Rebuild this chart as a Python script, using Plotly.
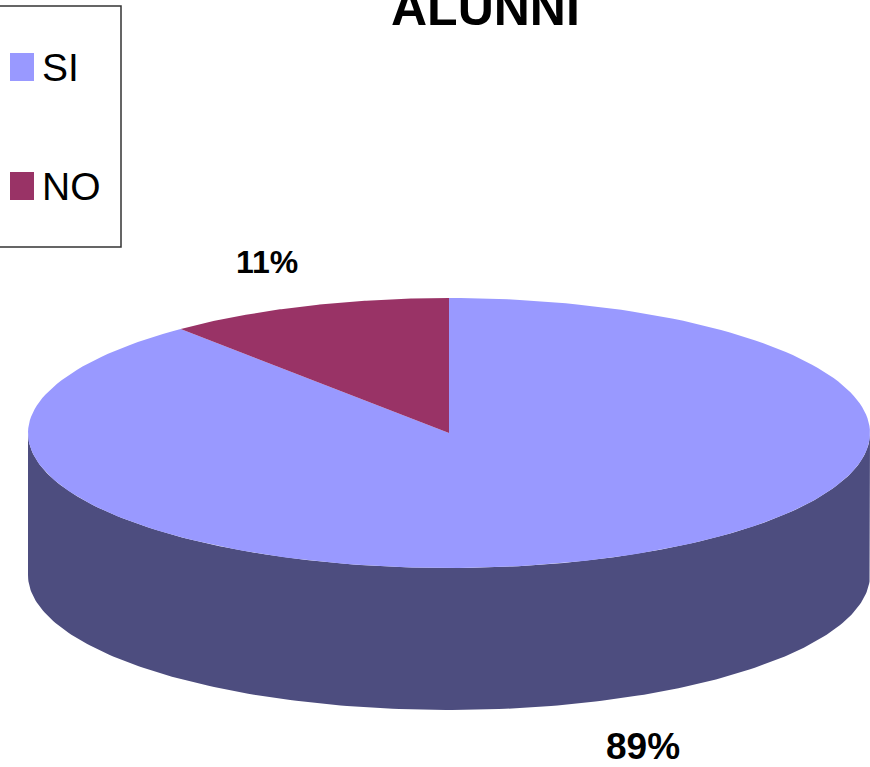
import numpy as np
import plotly.graph_objects as go

# ---- data ----
title = "ALUNNI"
categories = ["SI", "NO"]
values = [89, 11]

# ---- style ----
top_colors = ["#9999FF", "#993366"]
side_colors = ["#4D4D7F", "#4D1A33"]
W, H = 870, 767
cx, cy = 449, 433          # pie centre (pixels)
rx, ry = 421, 135          # ellipse radii
depth = 142                # thickness of the pie
font_family = "Liberation Sans, Arial, sans-serif"

fig = go.Figure()

total = float(sum(values))
start = 90.0
slices = []
for cat, v, tc, sc in zip(categories, values, top_colors, side_colors):
    sweep = 360.0 * v / total
    a0, a1 = start, start - sweep   # clockwise
    slices.append((cat, v, a0, a1, tc, sc))
    start = a1


def arc(a_from, a_to, n=200):
    t = np.radians(np.linspace(a_from, a_to, n))
    return cx + rx * np.cos(t), cy - ry * np.sin(t)


# sides (front half only: angles where sin < 0)
for cat, v, a0, a1, tc, sc in slices:
    lo, hi = min(a0, a1), max(a0, a1)
    for k in range(-2, 2):
        f_lo, f_hi = -180 + 360 * k, 0 + 360 * k
        s_lo, s_hi = max(lo, f_lo), min(hi, f_hi)
        if s_hi > s_lo:
            xs, ys = arc(s_lo, s_hi)
            px = np.concatenate([xs, xs[::-1]])
            py = np.concatenate([ys, ys[::-1] + depth])
            fig.add_trace(go.Scatter(x=px, y=py, fill="toself", mode="lines",
                                     line=dict(width=0, color=sc), fillcolor=sc,
                                     hoverinfo="skip", showlegend=False))

# tops
for cat, v, a0, a1, tc, sc in slices:
    xs, ys = arc(a0, a1)
    px = np.concatenate([[cx], xs, [cx]])
    py = np.concatenate([[cy], ys, [cy]])
    fig.add_trace(go.Scatter(x=px, y=py, fill="toself", mode="lines",
                             line=dict(width=0, color=tc), fillcolor=tc,
                             name=cat, hoverinfo="skip", showlegend=False))

# percentage labels
for cat, v, a0, a1, tc, sc in slices:
    mid = np.radians((a0 + a1) / 2)
    lx = cx + 1.33 * rx * np.cos(mid)
    ly = cy - 1.33 * ry * np.sin(mid)
    size = 32
    if np.sin(mid) < 0:
        ly += depth + 3
        lx += 4
        size = 37
    else:
        lx += 8
        ly -= 2
    fig.add_annotation(x=lx, y=ly, xref="x", yref="y", showarrow=False,
                       text="<b>%d%%</b>" % round(100 * v / total),
                       font=dict(family=font_family, size=size, color="black"))

# legend (box, swatches, labels)
fig.add_shape(type="rect", xref="x", yref="y", x0=-3, x1=121, y0=6, y1=247,
              line=dict(color="#333333", width=1.5), fillcolor="white")
for i, (cat, tc) in enumerate(zip(categories, top_colors)):
    yc = 67 + i * 119
    fig.add_shape(type="rect", xref="x", yref="y", x0=10, x1=34, y0=yc - 14, y1=yc + 14,
                  line=dict(width=0), fillcolor=tc)
    fig.add_annotation(x=40, y=yc, xref="x", yref="y", showarrow=False, xanchor="left",
                       text=cat, font=dict(family=font_family, size=39, color="black"))

# title
fig.add_annotation(x=485, y=8, xref="x", yref="y", showarrow=False,
                   text="<b>%s</b>" % title,
                   font=dict(family=font_family, size=50, color="black"))

fig.update_layout(
    width=W, height=H, autosize=False,
    margin=dict(l=0, r=0, t=0, b=0),
    paper_bgcolor="white", plot_bgcolor="white",
    xaxis=dict(range=[0, W], visible=False, fixedrange=True),
    yaxis=dict(range=[H, 0], visible=False, fixedrange=True),
    showlegend=False,
)
fig.write_html("out.html", config={"displayModeBar": False},
               post_script="document.body.style.margin='0';document.body.style.overflow='hidden';")
